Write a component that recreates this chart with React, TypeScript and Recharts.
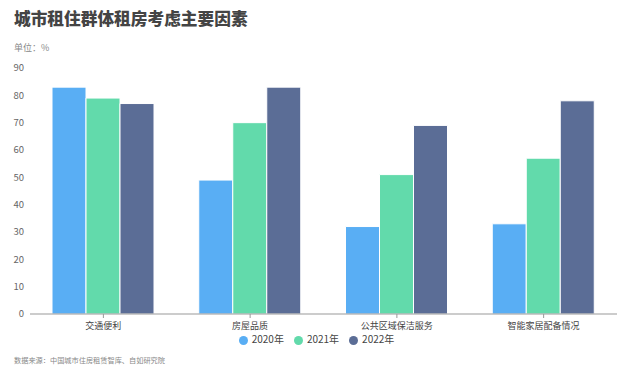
import React from 'react';
import { BarChart, Bar, XAxis, YAxis, Legend } from 'recharts';

// 数据
const factors = ['交通便利', '房屋品质', '公共区域保洁服务', '智能家居配备情况'];
const y2020 = [83, 49, 32, 33];
const y2021 = [79, 70, 51, 57];
const y2022 = [77, 83, 69, 78];
const yTicks = [0, 10, 20, 30, 40, 50, 60, 70, 80, 90];

const series = [
  { key: '2020年', values: y2020, color: '#59aef4' },
  { key: '2021年', values: y2021, color: '#62daab' },
  { key: '2022年', values: y2022, color: '#5b6d96' },
];

const data = factors.map((name, i) => {
  const row: any = { name };
  series.forEach((s) => {
    row[s.key] = s.values[i];
  });
  return row;
});

const font = '"Noto Sans CJK SC", "Noto Sans", sans-serif';

export default function App() {
  return (
    <div style={{ position: 'absolute', left: 0, top: 0, width: 622, height: 377, background: '#fff', fontFamily: font }}>
      <div style={{ position: 'absolute', left: 14, top: 6, fontSize: 16.7, fontWeight: 900, color: '#444' }}>
        城市租住群体租房考虑主要因素
      </div>
      <div style={{ position: 'absolute', left: 14, top: 41, fontSize: 9, color: '#888' }}>单位：%</div>
      <BarChart
        width={622}
        height={377}
        data={data}
        margin={{ top: 68, right: 5, left: 0, bottom: 31 }}
        barCategoryGap="15%"
        barGap={0}
      >
        <XAxis
          dataKey="name"
          stroke="#999"
          tickSize={4}
          tickMargin={5}
          tick={{ fill: '#444', fontSize: 9, fontFamily: font }}
          height={18}
          interval={0}
        />
        <YAxis
          domain={[0, 90]}
          ticks={yTicks}
          axisLine={false}
          tickLine={false}
          tickMargin={0}
          width={30}
          tick={{ fill: '#666', fontSize: 9.5, fontFamily: font }}
        />
        <Legend
          verticalAlign="bottom"
          iconType="circle"
          iconSize={9}
          wrapperStyle={{ fontSize: 10, lineHeight: '14px', fontFamily: font, paddingLeft: 13 }}
          formatter={(v: string) => <span style={{ color: '#444' }}>{v}</span>}
        />
        {series.map((s) => (
          <Bar key={s.key} dataKey={s.key} fill={s.color} stroke="#fff" strokeWidth={1} isAnimationActive={false} />
        ))}
      </BarChart>
      <div style={{ position: 'absolute', left: 14, top: 355, fontSize: 7.2, color: '#888' }}>
        数据来源：中国城市住房租赁智库、自如研究院
      </div>
    </div>
  );
}
